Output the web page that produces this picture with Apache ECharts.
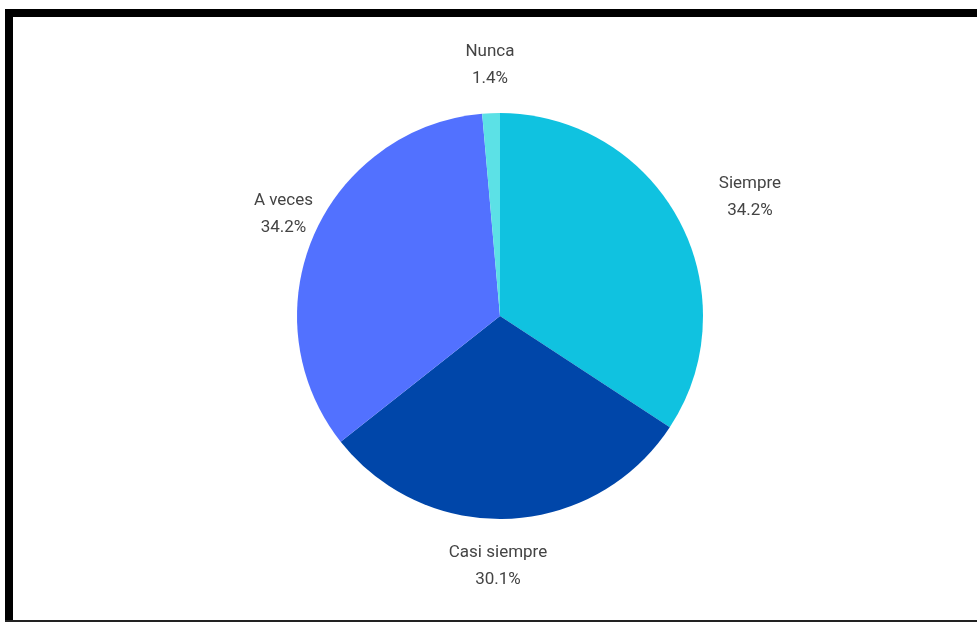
<!DOCTYPE html>
<html>
<head>
<meta charset="utf-8">
<script src="https://cdn.jsdelivr.net/npm/echarts@6/dist/echarts.min.js"></script>
<style>
  html, body { margin: 0; padding: 0; background: #fff; }
  #chart { width: 977px; height: 622px; }
</style>
</head>
<body>
<div id="chart"></div>
<script>
const categories = ['Siempre', 'Casi siempre', 'A veces', 'Nunca'];
const percentages = [34.2, 30.1, 34.2, 1.4];
const sliceColors = ['#10C2E0', '#0046A9', '#5271FF', '#5CE1E6'];
const labelShiftX = [25, -18, 18, 6];
const labelShiftY = [0, 0, -3, -1];

const chart = echarts.init(document.getElementById('chart'));
chart.setOption({
  backgroundColor: '#ffffff',
  animation: false,
  graphic: [
    { type: 'rect', shape: { x: 5, y: 9, width: 972, height: 8 }, style: { fill: '#000' }, z: 100 },
    { type: 'rect', shape: { x: 5, y: 9, width: 8, height: 613 }, style: { fill: '#000' }, z: 100 },
    { type: 'rect', shape: { x: 5, y: 620, width: 972, height: 2 }, style: { fill: '#222' }, z: 100 }
  ],
  series: [{
    type: 'pie',
    center: [500, 316],
    radius: 203,
    startAngle: 90,
    clockwise: true,
    avoidLabelOverlap: false,
    itemStyle: { borderWidth: 0 },
    label: {
      show: true,
      position: 'outside',
      formatter: p => p.name + '\n' + p.value.toFixed(1) + '%',
      fontFamily: 'Roboto',
      fontSize: 17,
      lineHeight: 27,
      color: '#444444'
    },
    labelLine: { show: false, length: 47, length2: 0 },
    labelLayout: p => ({
      align: 'center',
      dx: labelShiftX[p.dataIndex],
      dy: labelShiftY[p.dataIndex]
    }),
    emphasis: { disabled: true },
    data: categories.map((c, i) => ({
      name: c,
      value: percentages[i],
      itemStyle: { color: sliceColors[i] }
    }))
  }]
});
</script>
</body>
</html>
